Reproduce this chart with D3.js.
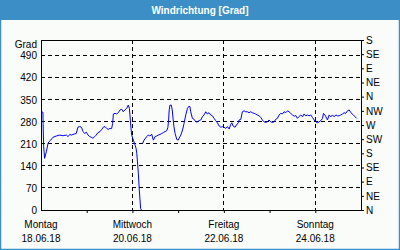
<!DOCTYPE html>
<html>
<head>
<meta charset="utf-8">
<script src="https://cdn.jsdelivr.net/npm/d3@7"></script>
<style>
  body { margin: 0; background: #fff; }
  text { font-family: "Liberation Sans", Arial, sans-serif; font-size: 10px; fill: #000; }
</style>
</head>
<body>
<svg width="400" height="250"></svg>
<script>
// hours since Mo 18.06.18 00:00, null = gap
var hours = [0.0, 1.0, 1.1, 1.4, 1.9, 2.8, 3.7, 4.2, 5.1, 6.3, 8.0, 9.8, 11.6, 13.3, 14.2, 15.1, 15.9, 17.3,
  18.5, 19.4, 20.3, 21.2, 22.1, 22.9, 23.8, 24.7, 25.6, 26.4, 27.3, 28.2, 29.0, 29.9, 31.0, 31.9, 32.7,
  33.6, 34.5, 35.3, 36.2, 37.1, 37.6, 38.0, 38.9, 39.7, 40.6, 41.5, 42.4, 43.2, 44.1, 45.0, 45.8, 46.4,
  46.7, 47.1, 47.6, 48.5, 49.4, 49.9, 50.3, 51.1, 51.6, 52.3, 52.7, 53.1,
  53.4, 54.1, 55.5, 56.3, 57.2, 58.1, 59.0, 59.9, 60.7, 61.6, 62.5, 63.4, 64.2, 65.1, 66.0, 66.6, 67.0,
  67.3, 67.7, 68.4, 68.9, 69.4, 69.8, 70.4, 71.3, 72.0, 72.5, 73.4, 74.3, 75.1, 76.0, 76.9, 77.7, 78.2,
  78.6, 79.5, 80.4, 81.3, 82.1, 83.0, 83.9, 84.7, 85.6, 86.5, 87.3, 88.2, 89.1, 90.0, 90.9, 91.7, 92.6,
  93.5, 94.4, 95.3, 96.1, 97.0, 97.9, 98.8, 99.6, 100.2, 100.8, 101.9, 102.6, 103.6, 104.0, 104.9, 105.7,
  106.6, 107.5, 108.4, 109.2, 110.1, 111.0, 111.9, 112.7, 113.6, 114.5, 115.4, 116.2, 117.1, 118.0, 118.8,
  119.7, 120.6, 121.5, 122.4, 123.2, 124.1, 125.0, 125.9, 126.7, 127.6, 128.5, 129.4, 130.2, 131.1, 132.0,
  132.9, 133.8, 134.6, 135.5, 136.4, 137.3, 138.1, 139.0, 139.9, 140.7, 141.6, 142.5, 143.4, 144.3, 145.1,
  146.0, 146.9, 147.8, 148.3, 149.0, 149.6, 150.4, 151.3, 152.2, 153.0, 153.9, 154.8, 155.7, 156.5, 157.4,
  158.3, 159.1, 160.0, 160.9, 161.8, 162.7, 164.0, 164.9, 165.7];
var windDir = [311, 311, 275, 201, 164, 185, 212, 217, 222, 231, 235, 238, 236, 238, 233, 240, 238, 241,
  243, 263, 265, 263, 249, 243, 247, 238, 233, 231, 228, 233, 238, 246, 249, 256, 263,
  265, 259, 256, 259, 259, 275, 305, 307, 305, 309, 318, 320, 312, 318, 323, 333, 323,
  302, 270, 238, 222, 206, 196, 180, 117, 64, 5, 0, null,
  212, 222, 233, 238, 235, 241, 222, 233, 235, 238, 240, 243, 246, 249, 252, 262, 286,
  318, 333, 333, 318, 286, 265, 243, 224, 222, 228, 238, 254, 275, 302, 323, 330, 328,
  312, 291, 288, 280, 280, 284, 286, 296, 302, 312, 305, 309, 302, 299, 291, 284, 277,
  267, 263, 265, 263, 259, 265, 257, 272, 277, 267, 263, 270, 277, 286, 288, 312,
  315, 312, 312, 309, 312, 309, 307, 305, 302, 299, 294, 286, 280, 278, 280,
  286, 280, 278, 280, 288, 291, 302, 307, 305, 312, 309, 315, 312, 307, 302,
  298, 300, 291, 297, 302, 296, 305, 299, 302, 299, 302, 294, 286, 280, 277,
  280, 284, 291, 307, 302, 296, 286, 302, 296, 302, 296, 302, 299, 299, 302,
  305, 309, 307, 315, 318, 309, 302, 296, 291];

var leftTicks = [0, 70, 140, 210, 280, 350, 420, 490];
var rightTicks = [0, 45, 90, 135, 180, 225, 270, 315, 360, 405, 450, 495, 540];
var rightLabels = ["N", "NE", "E", "SE", "S", "SW", "W", "NW", "N", "NE", "E", "SE", "S"];
var dayNames = ["Montag", "Mittwoch", "Freitag", "Sonntag"];
var dayDates = ["18.06.18", "20.06.18", "22.06.18", "24.06.18"];

var svg = d3.select("svg"),
    width = +svg.attr("width"),
    height = +svg.attr("height");

var start = new Date(2018, 5, 18);
function hoursToDate(h) { return new Date(start.getTime() + h * 3600000); }

var x = d3.scaleTime().domain([start, new Date(2018, 5, 25)]).range([41, 361]);
var y = d3.scaleLinear().domain([0, 540]).range([210, 40]);

// frame + title bar
svg.append("rect").attr("x", 0.5).attr("y", 0.5).attr("width", width - 1).attr("height", height - 1)
    .attr("fill", "#fafcfa").attr("stroke", "#3b8fc6").attr("stroke-width", 1.5);
svg.append("rect").attr("x", 0).attr("y", 0).attr("width", width).attr("height", 20).attr("fill", "#3b8fc6");
svg.append("text").attr("x", width / 2).attr("y", 14).attr("text-anchor", "middle")
    .style("font-weight", "bold").style("fill", "#fff").text("Windrichtung [Grad]");

// grid
var grid = svg.append("g").attr("stroke", "#000").attr("stroke-dasharray", "4,3").attr("shape-rendering", "crispEdges");
grid.selectAll(".h").data(leftTicks.slice(1)).enter().append("line")
    .attr("x1", 41).attr("x2", 361)
    .attr("y1", function(d) { return y(d); }).attr("y2", function(d) { return y(d); });
var gridDays = [2, 4, 6].map(function(d) { return new Date(2018, 5, 18 + d); });
grid.selectAll(".v").data(gridDays).enter().append("line")
    .attr("y1", 40).attr("y2", 210)
    .attr("x1", function(d) { return x(d); }).attr("x2", function(d) { return x(d); });

// line
var pts = hours.map(function(h, i) { return { t: hoursToDate(h), v: windDir[i] }; });
var line = d3.line()
    .defined(function(d) { return d.v != null; })
    .x(function(d) { return x(d.t); })
    .y(function(d) { return y(d.v); });
svg.append("path").datum(pts).attr("d", line)
    .attr("fill", "none").attr("stroke", "#0000ff").attr("stroke-width", 1);

// axes
var leftAxis = svg.append("g").attr("transform", "translate(41,0)")
    .call(d3.axisLeft(y).tickValues(leftTicks).tickSize(0).tickPadding(4));
leftAxis.select(".domain").remove();
leftAxis.selectAll("text").attr("font-size", null).attr("font-family", null);
svg.append("text").attr("x", 37).attr("y", y(540) + 8).attr("text-anchor", "end").text("Grad");

var rightAxis = svg.append("g").attr("transform", "translate(361,0)")
    .call(d3.axisRight(y).tickValues(rightTicks).tickSize(3).tickPadding(2)
        .tickFormat(function(d, i) { return rightLabels[i]; }));
rightAxis.select(".domain").remove();
rightAxis.selectAll("text").attr("font-size", null).attr("font-family", null);

var days = d3.range(1, 7).map(function(d) { return new Date(2018, 5, 18 + d); });
var bottomAxis = svg.append("g").attr("transform", "translate(0,210)")
    .call(d3.axisBottom(x).tickValues(days).tickSize(3).tickFormat(""));
bottomAxis.select(".domain").remove();

// plot box
svg.append("rect").attr("x", 41).attr("y", 40).attr("width", 320).attr("height", 170)
    .attr("fill", "none").attr("stroke", "#000").attr("shape-rendering", "crispEdges");

// day labels
var labelDays = [0, 2, 4, 6].map(function(d) { return new Date(2018, 5, 18 + d); });
var lbl = svg.append("g").attr("text-anchor", "middle");
lbl.selectAll(".n").data(labelDays).enter().append("text")
    .attr("x", function(d) { return x(d); }).attr("y", 228)
    .text(function(d, i) { return dayNames[i]; });
lbl.selectAll(".dt").data(labelDays).enter().append("text")
    .attr("x", function(d) { return x(d); }).attr("y", 242)
    .text(function(d, i) { return dayDates[i]; });
</script>
</body>
</html>
